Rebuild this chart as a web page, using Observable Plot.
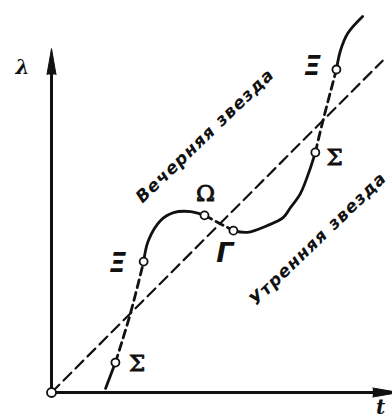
<!DOCTYPE html>
<html><head><meta charset="utf-8">
<script src="https://cdn.jsdelivr.net/npm/d3@7"></script>
<script src="https://cdn.jsdelivr.net/npm/@observablehq/plot@0.6"></script>
<style>
body{margin:0;background:#fff}
.lbl text{letter-spacing:1.2px}
</style>
</head><body><div id="chart"></div>
<script>
// curve segments (t, λ)
const solid1 = [[1.59,0.12],[1.88,0.88]];
const dashed1 = [[1.88,0.88],[2.32,2.32],[2.71,3.85]];
const solid2 = [[2.71,3.85],[2.85,4.47],[3.21,5.06],[3.59,5.29],[4.09,5.32],[4.50,5.21]];
const dashed2 = [[4.50,5.21],[5.35,4.76]];
const solid3 = [[5.35,4.76],[5.76,4.71],[6.35,4.91],[6.82,5.15],[7.03,5.44],[7.32,5.85],[7.62,6.62],[7.76,7.06]];
const dashed3 = [[7.76,7.06],[7.97,7.94],[8.38,9.50]];
const solid4 = [[8.38,9.50],[8.50,10.06],[8.71,10.56],[9.15,11.06]];
const diagonal = [[0,0],[9.74,9.76]];
const points = [[1.88,0.88],[2.71,3.85],[4.50,5.21],[5.35,4.76],[7.76,7.06],[8.38,9.50]];
const greek = [
  {t:2.52,l:0.84,s:"Σ",it:false},
  {t:1.95,l:3.80,s:"Ξ",it:true},
  {t:4.53,l:5.85,s:"Ω",it:false},
  {t:5.10,l:4.08,s:"Γ",it:true},
  {t:8.33,l:6.90,s:"Σ",it:false},
  {t:7.68,l:9.58,s:"Ξ",it:true}
];
const words = [
  {t:4.52,l:7.55,s:"Вечерняя звезда"},
  {t:7.84,l:4.52,s:"Утренняя звезда"}
];
const axisTips = [{x:0,y:9.35,rot:0},{x:9.45,y:0,rot:90}];

const curve = "catmull-rom";
const chart = Plot.plot({
  width:392, height:419,
  marginLeft:51, marginRight:1, marginTop:1, marginBottom:27,
  x:{domain:[0,10], axis:null},
  y:{domain:[0,11.5], axis:null},
  style:{background:"#fff"},
  marks:[
    Plot.line(diagonal,{x:d=>d[0],y:d=>d[1],stroke:"#111",strokeWidth:2.2,strokeDasharray:"11,6"}),
    Plot.line([[0,0],[0,9.5]],{x:d=>d[0],y:d=>d[1],stroke:"#111",strokeWidth:3}),
    Plot.line([[0,0],[9.6,0]],{x:d=>d[0],y:d=>d[1],stroke:"#111",strokeWidth:3}),
    Plot.vector(axisTips,{x:"x",y:"y",rotate:"rot",length:26,shape:"spike",anchor:"start",r:4.5,fill:"#111",stroke:"#111",strokeWidth:1}),
    Plot.line(solid1,{x:d=>d[0],y:d=>d[1],stroke:"#111",strokeWidth:2.8}),
    Plot.line(dashed1,{x:d=>d[0],y:d=>d[1],stroke:"#111",strokeWidth:2.8,strokeDasharray:"8,5",curve}),
    Plot.line(solid2,{x:d=>d[0],y:d=>d[1],stroke:"#111",strokeWidth:2.8,curve}),
    Plot.line(dashed2,{x:d=>d[0],y:d=>d[1],stroke:"#111",strokeWidth:2.8,strokeDasharray:"8,5"}),
    Plot.line(solid3,{x:d=>d[0],y:d=>d[1],stroke:"#111",strokeWidth:2.8,curve}),
    Plot.line(dashed3,{x:d=>d[0],y:d=>d[1],stroke:"#111",strokeWidth:2.8,strokeDasharray:"8,5",curve}),
    Plot.line(solid4,{x:d=>d[0],y:d=>d[1],stroke:"#111",strokeWidth:2.8,curve}),
    Plot.dot(points,{x:d=>d[0],y:d=>d[1],r:4,fill:"#fff",stroke:"#111",strokeWidth:1.8}),
    Plot.dot([[0,0]],{x:d=>d[0],y:d=>d[1],r:4.5,fill:"#fff",stroke:"#111",strokeWidth:1.8}),
    Plot.text(greek.filter(d=>!d.it),{x:"t",y:"l",text:"s",fontSize:23,fontFamily:"DejaVu Serif",fill:"#111",stroke:"#111",strokeWidth:0.9}),
    Plot.text(greek.filter(d=>d.it),{x:"t",y:"l",text:"s",fontSize:27,fontFamily:"DejaVu Sans",fontStyle:"italic",fontWeight:"bold",fill:"#111"}),
    Plot.text(words,{x:"t",y:"l",text:"s",rotate:-44,fontSize:17,fontFamily:"DejaVu Sans",fontStyle:"italic",fontWeight:"bold",fill:"#111",className:"lbl"}),
    Plot.text([{t:-0.85,l:9.55,s:"λ"}],{x:"t",y:"l",text:"s",fontSize:20,fontFamily:"DejaVu Serif",fontStyle:"italic",fontWeight:"bold",fill:"#111"}),
    Plot.text([{t:9.68,l:-0.45,s:"t"}],{x:"t",y:"l",text:"s",fontSize:20,fontFamily:"DejaVu Serif",fontStyle:"italic",fontWeight:"bold",fill:"#111"})
  ]
});
document.getElementById("chart").append(chart);
</script>
</body></html>
